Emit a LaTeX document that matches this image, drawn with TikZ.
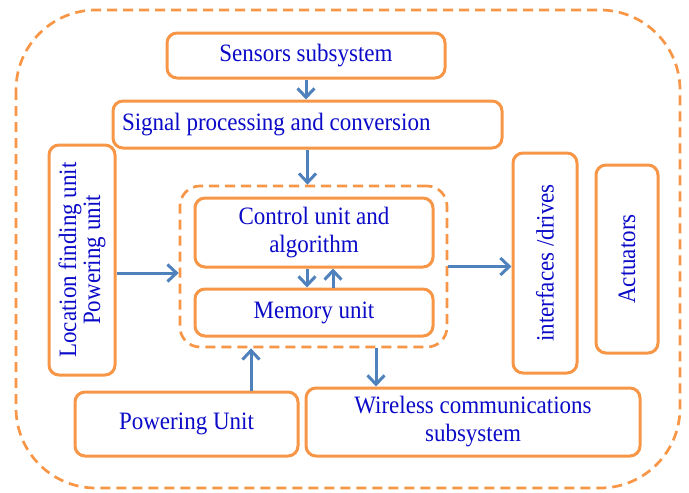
\documentclass[tikz,border=0pt]{standalone}
\usepackage{fontspec}
\setmainfont{Liberation Serif}[FakeStretch=0.92]
\usetikzlibrary{arrows.meta}
\definecolor{boxorange}{RGB}{247,150,70}
\definecolor{arrowblue}{RGB}{79,129,189}
\definecolor{textblue}{RGB}{10,10,200}
\begin{document}
\begin{tikzpicture}[x=1pt,y=-1pt,
    unitbox/.style={draw=boxorange,line width=3pt,rounded corners=10pt,
      text=textblue,font=\fontsize{25}{28}\selectfont,inner sep=0pt,align=center},
    groupbox/.style={draw=boxorange,line width=2.7pt,dash pattern=on 10pt off 6pt},
    flow/.style={draw=arrowblue,line width=3pt,-{Straight Barb[length=9pt,width=17pt]}}]
      \useasboundingbox (0,0) rectangle (689,493);
      \draw[groupbox,rounded corners=80pt] (16,10) rectangle (680,488);
      \draw
        (306,55.5) node[unitbox,minimum width=278pt,minimum height=45pt] (sensors){Sensors subsystem}
        (307.5,124.5) node[unitbox,minimum width=389pt,minimum height=47pt,text width=371pt,align=flush left] (signal){Signal processing and conversion}
        (82,260) node[unitbox,rotate=90,minimum width=230pt,minimum height=66pt,font=\fontsize{25}{24}\selectfont] (location){Location finding unit\\Powering unit}
        (313.5,266.5) node[groupbox,rounded corners=20pt,minimum width=267pt,minimum height=161pt] (core){}
        (314,232.5) node[unitbox,minimum width=238pt,minimum height=69pt] (control){Control unit and\\algorithm}
        (314,312.5) node[unitbox,minimum width=238pt,minimum height=47pt] (memory){Memory unit}
        (545,263) node[unitbox,rotate=90,minimum width=220pt,minimum height=64pt] (interfaces){interfaces /drives}
        (627,259) node[unitbox,rotate=90,minimum width=188pt,minimum height=62pt] (actuators){Actuators}
        (186.5,424) node[unitbox,minimum width=223pt,minimum height=64pt] (powering){Powering Unit}
        (473,422) node[unitbox,minimum width=334pt,minimum height=68pt] (wireless){Wireless communications\\subsystem};
      \begin{scope}[flow]
        \draw (sensors.south) to (sensors.south |- signal.north);
        \draw (signal.south) to (signal.south |- core.north);
        \draw ([yshift=-13pt]location.south) to ([yshift=-13pt]location.south -| core.west);
        \draw ([xshift=-7pt]control.south) to ([xshift=-7pt]control.south |- memory.north);
        \draw ([xshift=19pt]memory.north) to ([xshift=19pt]memory.north |- control.south);
        \draw (core.east) to (core.east -| interfaces.north);
        \draw ([xshift=64.5pt]powering.north) to ([xshift=64.5pt]powering.north |- core.south);
        \draw ([xshift=62.5pt]core.south) to ([xshift=62.5pt]core.south |- wireless.north);
      \end{scope}
    \end{tikzpicture}
\end{document}
